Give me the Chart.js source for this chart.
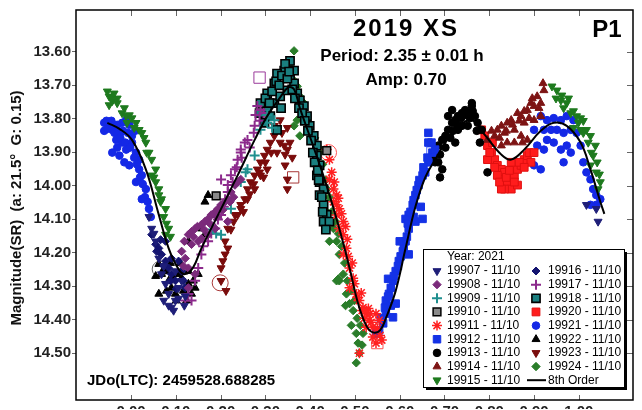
<!DOCTYPE html>
<html>
<head>
<meta charset="utf-8">
<script src="https://cdn.jsdelivr.net/npm/chart.js@4.4.0/dist/chart.umd.min.js"></script>
<style>
  html, body { margin: 0; padding: 0; background: #fff; overflow: hidden; }
  #wrap { width: 642px; height: 410px; position: relative; }
</style>
</head>
<body>
<div id="wrap"><canvas id="lc"></canvas></div>
<script>
// Axis setup
const xMin = -0.123, xMax = 1.121;
const yMin = 13.475, yMax = 14.640;
const xTicks = [0, 0.1, 0.2, 0.3, 0.4, 0.5, 0.6, 0.7, 0.8, 0.9, 1.0];
const yTicks = [13.6, 13.7, 13.8, 13.9, 14.0, 14.1, 14.2, 14.3, 14.4, 14.5];

// Sessions (all 11/10, year 2021)
const sessions = ['19907', '19908', '19909', '19910', '19911', '19912', '19913', '19914', '19915',
  '19916', '19917', '19918', '19920', '19921', '19922', '19923', '19924'];
const sessionDate = '11/10';

// [phase, magnitude]
const s19907 = [[0.046,14.128],[0.055,14.166],[0.062,14.217],[0.068,14.264],[0.073,14.240],[0.077,14.293],
  [0.084,14.323],[0.090,14.364],[0.099,14.343],[0.099,14.255],[0.106,14.305],[0.113,14.284],[0.121,14.330],
  [0.073,14.343],[0.084,14.358],[0.095,14.373],[0.106,14.337],[0.119,14.358],[0.040,14.093],[0.051,14.143],
  [1.017,14.057],[1.039,14.069],[1.043,14.107]];
const s19908 = [[0.128,14.146],[0.135,14.137],[0.143,14.128],[0.150,14.166],[0.157,14.116],[0.165,14.107],
  [0.172,14.099],[0.157,14.158],[0.179,14.087],[0.188,14.078],[0.194,14.069],[0.201,14.057],[0.210,14.048],
  [0.216,14.040],[0.223,14.019],[0.232,13.998],[0.238,13.989],[0.245,13.981],[0.135,14.175],[0.121,14.217],
  [0.128,14.246],[0.143,14.264],[0.128,14.305],[0.188,14.128],[0.172,14.146],[0.216,14.107],
  [0.113,14.196],[0.119,14.166],[0.139,14.152],[0.148,14.122],[0.163,14.131],[0.176,14.113],[0.192,14.093],
  [0.205,14.072],[0.221,14.048],[0.229,14.034],[0.117,14.240]];
const s19909 = [[0.201,14.146],[0.223,14.069],[0.245,13.989],[0.260,13.951],[0.276,13.910],[0.289,13.833],
  [0.304,13.812],[0.320,13.804],[0.183,14.131],[0.190,14.143],[0.304,13.789],[0.315,13.827],[0.256,13.960]];
const s19910 = [[0.190,14.030],[0.437,13.895]];
const s19911 = [[0.443,13.981],[0.452,14.010],[0.459,14.028],[0.452,14.048],[0.465,14.069],[0.459,14.087],
  [0.474,14.107],[0.465,14.128],[0.474,14.146],[0.481,14.187],[0.474,14.205],[0.488,14.246],[0.496,14.276],
  [0.488,14.305],[0.503,14.323],[0.510,14.343],[0.518,14.364],[0.525,14.382],[0.532,14.402],[0.540,14.423],
  [0.525,14.423],[0.547,14.382],[0.554,14.402],[0.510,14.500],[0.547,14.470],[0.540,14.452],[0.443,13.922],
  [0.437,13.892],[0.459,14.057],
  [0.448,13.960],[0.454,13.989],[0.463,14.037],[0.470,14.084],[0.479,14.122],[0.483,14.160],[0.485,14.211],
  [0.494,14.231],[0.499,14.293],[0.505,14.334],[0.514,14.320],[0.521,14.396],[0.530,14.367],[0.536,14.408],
  [0.550,14.426],[0.556,14.447],[0.560,14.461],[0.534,14.382],[0.516,14.373]];
const s19912 = [[0.547,14.441],[0.563,14.411],[0.569,14.382],[0.569,14.343],[0.576,14.323],[0.585,14.284],
  [0.591,14.255],[0.598,14.225],[0.607,14.196],[0.613,14.166],[0.620,14.128],[0.620,14.087],[0.629,14.057],
  [0.635,14.028],[0.642,13.998],[0.651,13.969],[0.657,13.960],[0.664,13.930],[0.673,13.901],[0.664,13.871],
  [0.664,13.842],[0.679,13.892],[0.574,14.278],[0.585,14.393],[0.591,14.352],[0.620,14.205],[0.635,14.107],
  [0.651,14.099],[0.613,14.099],
  [0.554,14.432],[0.558,14.396],[0.567,14.364],[0.574,14.331],[0.580,14.305],[0.587,14.270],[0.596,14.240],
  [0.602,14.211],[0.609,14.181],[0.616,14.152],[0.618,14.113],[0.624,14.078],[0.631,14.043],[0.638,14.013],
  [0.644,13.983],[0.653,13.945],[0.662,13.916],[0.671,13.871],[0.580,14.358],[0.600,14.166],[0.631,14.093],
  [0.647,14.063]];
const s19913 = [[0.673,13.922],[0.679,13.901],[0.686,13.880],[0.695,13.863],[0.702,13.851],[0.708,13.833],
  [0.717,13.812],[0.724,13.804],[0.730,13.792],[0.739,13.783],[0.746,13.774],[0.752,13.783],[0.761,13.762],
  [0.768,13.792],[0.774,13.812],[0.752,13.821],[0.739,13.821],[0.730,13.833],[0.717,13.774],[0.708,13.792],
  [0.761,13.753],[0.695,13.951],[0.686,13.930],[0.796,13.960],[0.783,13.833],[0.724,13.871],
  [0.679,13.930],[0.690,13.907],[0.702,13.886],[0.713,13.857],[0.719,13.836],[0.728,13.818],[0.737,13.798],
  [0.746,13.789],[0.757,13.798],[0.763,13.777],[0.772,13.836],[0.779,13.871],[0.690,13.975]];
const s19914 = [[0.796,13.863],[0.812,13.851],[0.818,13.833],[0.827,13.821],[0.834,13.842],[0.840,13.812],
  [0.849,13.804],[0.856,13.833],[0.863,13.783],[0.871,13.792],[0.878,13.812],[0.885,13.774],[0.893,13.753],
  [0.900,13.762],[0.907,13.733],[0.915,13.753],[0.922,13.715],[0.856,13.871],[0.840,13.871],[0.871,13.851],
  [0.885,13.863],[0.827,13.880],[0.900,13.804],[0.915,13.792],
  [0.805,13.836],[0.823,13.857],[0.838,13.836],[0.852,13.818],[0.867,13.806],[0.878,13.777],[0.889,13.798],
  [0.896,13.739],[0.911,13.768],[0.920,13.694],[0.874,13.871]];
const s19915 = [[-0.049,13.733],[-0.042,13.747],[-0.038,13.724],[-0.031,13.739],[-0.049,13.759],[-0.020,13.783],
  [-0.011,13.792],[-0.004,13.789],[0.002,13.798],[0.011,13.812],[0.018,13.833],[0.024,13.842],[0.033,13.871],
  [0.040,13.901],[0.046,13.922],[0.055,13.951],[0.046,13.969],[0.055,13.989],[0.062,14.010],[0.068,14.040],
  [0.077,14.069],[0.062,14.028],[0.084,14.128],[0.077,14.146],
  [-0.053,13.718],[-0.044,13.739],[-0.031,13.753],[-0.015,13.768],[-0.009,13.812],[0.007,13.827],[0.029,13.857],
  [0.035,13.901],[0.051,13.975],[0.066,14.048],[0.073,14.093],[0.079,14.113],[0.088,14.152],
  [0.940,13.703],[0.951,13.715],[0.962,13.730],[0.960,13.745],[0.973,13.753],[0.982,13.783],[0.995,13.792],
  [1.004,13.798],[1.010,13.806],[1.017,13.833],[1.026,13.851],[1.037,13.880],[1.032,13.910],[1.039,13.960],
  [1.048,13.989],[1.043,14.010],[1.026,13.939],[1.004,13.833],
  [0.949,13.739],[0.966,13.768],[0.977,13.739],[0.988,13.777],[0.999,13.812],[1.010,13.842],[1.021,13.871],
  [1.028,13.901],[1.041,13.930],[1.046,13.966],[0.988,13.827]];
const s19916 = [[0.046,14.146],[0.055,14.175],[0.062,14.187],[0.068,14.205],[0.077,14.225],[0.084,14.246],
  [0.090,14.264],[0.099,14.284],[0.090,14.217],[0.106,14.225],[0.113,14.255],[0.077,14.166],[0.121,14.305],
  [0.057,14.196],[0.073,14.240],[0.088,14.284],[0.101,14.308],[0.117,14.284],[0.066,14.161]];
const s19917 = [[0.128,14.323],[0.135,14.343],[0.143,14.284],[0.150,14.246],[0.157,14.205],[0.172,14.166],
  [0.188,14.128],[0.201,14.087],[0.210,14.040],[0.216,13.998],[0.223,13.969],[0.201,13.981],[0.232,13.951],
  [0.238,13.922],[0.245,13.892],[0.254,13.871],[0.260,13.863],[0.276,13.821],[0.289,13.774],[0.282,13.762],
  [0.245,13.901],[0.216,14.019],
  [0.121,14.343],[0.161,14.181],[0.179,14.143],[0.194,14.101],[0.207,14.063],[0.227,13.989],[0.236,13.945],
  [0.247,13.916],[0.265,13.886],[0.274,13.842],[0.287,13.806],[0.296,13.783],[0.278,13.789]];
const s19918 = [[0.304,13.774],[0.320,13.753],[0.333,13.733],[0.349,13.715],[0.355,13.674],[0.364,13.656],
  [0.355,13.627],[0.342,13.656],[0.326,13.665],[0.320,13.694],[0.304,13.724],[0.289,13.753],[0.298,13.812],
  [0.311,13.792],[0.326,13.833],[0.364,13.694],[0.371,13.724],[0.377,13.745],[0.386,13.762],[0.393,13.792],
  [0.399,13.821],[0.408,13.851],[0.415,13.880],[0.415,13.910],[0.421,13.939],[0.415,13.969],[0.421,13.989],
  [0.430,14.010],[0.421,14.028],[0.430,14.057],[0.437,14.087],[0.430,14.107],[0.443,14.107],
  [0.300,13.739],[0.309,13.753],[0.315,13.718],[0.324,13.688],[0.331,13.700],[0.337,13.671],[0.344,13.636],
  [0.349,13.680],[0.353,13.659],[0.360,13.712],[0.366,13.739],[0.375,13.768],[0.382,13.783],[0.388,13.806],
  [0.395,13.836],[0.402,13.865],[0.406,13.901],[0.410,13.930],[0.417,13.954],[0.419,13.983],[0.426,14.034],
  [0.428,14.078],[0.435,14.131],[0.287,13.783],[0.335,13.768]];
const s19920 = [[0.783,13.833],[0.790,13.851],[0.796,13.880],[0.805,13.901],[0.812,13.922],[0.796,13.922],
  [0.818,13.939],[0.827,13.951],[0.834,13.960],[0.827,13.981],[0.840,13.989],[0.849,14.010],[0.834,14.010],
  [0.856,13.969],[0.863,13.951],[0.871,13.939],[0.878,13.922],[0.885,13.910],[0.893,13.930],[0.849,13.930],
  [0.863,13.998],[0.818,13.969],[0.827,14.010],
  [0.801,13.901],[0.812,13.945],[0.823,13.989],[0.838,13.975],[0.845,13.954],[0.856,13.989],[0.867,13.930],
  [0.878,13.945],[0.889,13.901],[0.900,13.901],[0.807,13.871]];
const s19921 = [[-0.060,13.836],[-0.055,13.806],[-0.049,13.812],[-0.042,13.833],[-0.033,13.821],[-0.026,13.842],
  [-0.020,13.812],[-0.011,13.804],[-0.004,13.818],[-0.033,13.863],[-0.020,13.871],[-0.042,13.901],[-0.026,13.910],
  [-0.011,13.892],[0.002,13.871],[0.011,13.901],[0.018,13.951],[0.024,13.969],[0.011,13.989],[0.033,14.010],
  [0.024,14.040],[0.040,14.069],[0.018,13.922],[-0.004,13.939],[0.002,13.851],
  [-0.060,13.812],[-0.053,13.830],[-0.044,13.806],[-0.037,13.842],[-0.031,13.818],[-0.024,13.857],[-0.018,13.836],
  [-0.013,13.871],[-0.007,13.842],[-0.002,13.886],[0.007,13.916],[0.013,13.936],[0.020,13.975],[0.026,13.995],
  [0.031,14.034],[0.037,14.048],[0.044,14.093],[0.009,13.836],[-0.015,13.930],[-0.031,13.886],
  [0.915,13.792],[0.929,13.804],[0.944,13.798],[0.960,13.804],[0.973,13.792],[0.988,13.804],[0.900,13.833],
  [0.922,13.833],[0.938,13.833],[0.951,13.833],[0.966,13.842],[0.982,13.833],[0.995,13.842],[0.907,13.880],
  [0.922,13.892],[0.944,13.871],[0.960,13.892],[0.973,13.880],[0.982,13.901],[0.966,13.930],[0.900,13.939],
  [0.915,13.951],[1.004,13.880],[1.010,13.930],[1.017,13.960],[1.026,13.981],[1.032,14.010],[1.039,14.028],
  [1.048,14.040],[1.039,14.057],[1.026,14.057],[0.885,13.910],[0.929,13.863]];
const s19922 = [[0.062,14.234],[0.068,14.264],[0.077,14.255],[0.084,14.284],[0.090,14.305],[0.099,14.323],
  [0.106,14.264],[0.113,14.276],[0.128,14.293],[0.135,14.323],[0.143,14.305],[0.062,14.323],[0.128,14.255],
  [0.150,14.264],[0.165,14.048],[0.172,14.028],[0.157,14.128],[0.165,14.146],[0.188,14.087],[0.128,14.166],
  [0.073,14.249],[0.079,14.314],[0.095,14.278],[0.101,14.343],[0.117,14.314],[0.124,14.343],[0.139,14.284],
  [0.055,14.270],[0.088,14.231],[0.110,14.231]];
const s19923 = [[0.238,14.087],[0.245,14.057],[0.254,14.040],[0.260,14.010],[0.267,13.989],[0.276,13.969],
  [0.282,13.951],[0.289,13.930],[0.298,13.910],[0.304,13.892],[0.311,13.871],[0.320,13.851],[0.326,13.833],
  [0.333,13.871],[0.342,13.880],[0.349,13.892],[0.326,13.901],[0.304,13.951],[0.289,13.969],[0.276,14.010],
  [0.260,14.040],[0.245,14.069],[0.232,14.087],[0.216,14.128],[0.210,14.166],[0.210,14.205],[0.201,14.246],
  [0.216,14.187],[0.201,14.284],[0.344,13.939],[0.349,13.981],[0.349,14.010],[0.320,13.821],[0.333,13.804],
  [0.223,14.131],[0.229,14.107],[0.251,14.078],[0.265,14.025],[0.274,13.995],[0.287,13.960],[0.300,13.930],
  [0.313,13.901],[0.337,13.842],[0.349,13.827],[0.355,13.871],[0.360,13.916],[0.344,13.907],[0.296,13.975],
  [0.205,14.225],[0.212,14.314]];
const s19924 = [[0.364,13.597],[0.355,13.644],[0.364,13.686],[0.371,13.703],[0.377,13.733],[0.386,13.753],
  [0.371,13.804],[0.364,13.821],[0.377,13.851],[0.393,13.812],[0.399,13.842],[0.408,13.871],[0.421,13.901],
  [0.415,13.930],[0.421,13.969],[0.437,14.010],[0.430,14.048],[0.437,14.078],[0.452,14.128],[0.459,14.166],
  [0.465,14.205],[0.474,14.264],[0.465,14.284],[0.481,14.323],[0.488,14.352],[0.496,14.373],[0.459,14.284],
  [0.443,14.166],[0.463,14.278],[0.503,14.441],[0.507,14.470],[0.510,14.500],[0.503,14.529],[0.518,14.441],
  [0.384,13.783],[0.397,13.827],[0.410,13.857],[0.419,13.886],[0.428,13.936],[0.435,13.983],[0.443,14.034],
  [0.448,14.078],[0.457,14.107],[0.463,14.143],[0.470,14.181],[0.477,14.231],[0.483,14.284],[0.492,14.314],
  [0.499,14.343],[0.505,14.396],[0.512,14.417],[0.516,14.476],[0.492,14.417],[0.479,14.358]];

// circled / boxed points in the plot (no legend entry)
const markedPts = [[0.065,14.249],[0.199,14.290],[0.287,13.677],[0.362,13.975],[0.550,14.470],[0.673,13.901],[0.441,13.901]];
const markedShape = ['circle', 'circle', 'rect', 'rect', 'rect', 'rect', 'circle'];
const markedColor = ['#666666', '#a83838', '#9a3a9a', '#a83838', '#ff5050', '#4a64ff', '#ff5050'];

// 8th order Fourier fit
const fitPhase = [-0.053,-0.026,0.002,0.033,0.062,0.084,0.106,0.121,0.139,0.157,0.201,0.238,0.276,0.304,
  0.333,0.351,0.364,0.377,0.408,0.437,0.465,0.488,0.507,0.525,0.540,0.556,0.569,0.591,0.613,0.635,0.657,
  0.679,0.702,0.730,0.761,0.790,0.827,0.849,0.878,0.915,0.944,0.973,1.004,1.026,1.048,1.057];
const fitMag = [13.812,13.830,13.863,13.951,14.087,14.187,14.249,14.264,14.243,14.187,14.069,13.969,13.863,
  13.792,13.736,13.706,13.712,13.768,13.886,14.001,14.128,14.246,14.352,14.417,14.438,14.432,14.396,14.314,
  14.187,14.063,13.975,13.922,13.871,13.824,13.804,13.848,13.907,13.922,13.892,13.836,13.812,13.821,13.871,
  13.951,14.048,14.084];

const sessionData = { '19907': s19907, '19908': s19908, '19909': s19909, '19910': s19910, '19911': s19911,
  '19912': s19912, '19913': s19913, '19914': s19914, '19915': s19915, '19916': s19916, '19917': s19917,
  '19918': s19918, '19920': s19920, '19921': s19921, '19922': s19922, '19923': s19923, '19924': s19924 };

// marker looks
const looks = {
  '19907': { shape: 'triangle', rot: 180, fill: '#1e1e78', edge: '#1e1e78', r: 4.6, bw: 1 },
  '19908': { shape: 'rectRot', rot: 0, fill: '#7b2a7b', edge: '#7b2a7b', r: 4.2, bw: 1 },
  '19909': { shape: 'cross', rot: 0, fill: '#1f8f8f', edge: '#1f8f8f', r: 5, bw: 2 },
  '19910': { shape: 'rect', rot: 0, fill: '#8a8a8a', edge: '#000', r: 5.5, bw: 1.5 },
  '19911': { shape: 'star', rot: 0, fill: '#ff2020', edge: '#ff2020', r: 5, bw: 1.5 },
  '19912': { shape: 'rect', rot: 0, fill: '#1432e6', edge: '#1432e6', r: 5.3, bw: 1 },
  '19913': { shape: 'circle', rot: 0, fill: '#000', edge: '#000', r: 3.8, bw: 1 },
  '19914': { shape: 'triangle', rot: 0, fill: '#7d1414', edge: '#7d1414', r: 4.6, bw: 1 },
  '19915': { shape: 'triangle', rot: 180, fill: '#1e7a1e', edge: '#1e7a1e', r: 4.6, bw: 1 },
  '19916': { shape: 'rectRot', rot: 0, fill: '#141470', edge: '#141470', r: 4, bw: 1 },
  '19917': { shape: 'cross', rot: 0, fill: '#8c2a8c', edge: '#8c2a8c', r: 5, bw: 2 },
  '19918': { shape: 'rect', rot: 0, fill: '#1a7f7f', edge: '#000', r: 5.8, bw: 1.6 },
  '19920': { shape: 'rect', rot: 0, fill: '#ff1c1c', edge: '#e01010', r: 5.5, bw: 1 },
  '19921': { shape: 'circle', rot: 0, fill: '#1428e6', edge: '#1428e6', r: 3.8, bw: 1 },
  '19922': { shape: 'triangle', rot: 0, fill: '#000', edge: '#000', r: 4.6, bw: 1 },
  '19923': { shape: 'triangle', rot: 180, fill: '#7a0c0c', edge: '#7a0c0c', r: 4.6, bw: 1 },
  '19924': { shape: 'rectRot', rot: 0, fill: '#2a7d2a', edge: '#2a7d2a', r: 4.2, bw: 1 },
};

const FONT = 'Arial, "Liberation Sans", Helvetica, sans-serif';

let datasets = [{
  label: '8th Order',
  data: fitPhase.map((p, i) => ({ x: p, y: fitMag[i] })),
  showLine: true,
  borderColor: '#000',
  borderWidth: 2,
  pointRadius: 0,
  tension: 0.4,
  fill: false,
}];
sessions.forEach(function (s) {
  const lk = looks[s];
  datasets.push({
    label: s + ' - ' + sessionDate,
    data: sessionData[s].map(p => ({ x: p[0], y: p[1] })),
    pointStyle: lk.shape,
    rotation: lk.rot,
    pointRadius: lk.r,
    pointBackgroundColor: lk.fill,
    pointBorderColor: lk.edge,
    pointBorderWidth: lk.bw,
    showLine: false,
  });
});
datasets.push({
  label: 'marked',
  data: markedPts.map(p => ({ x: p[0], y: p[1] })),
  pointStyle: markedShape,
  pointRadius: 8,
  pointBackgroundColor: 'rgba(0,0,0,0)',
  pointBorderColor: markedColor,
  pointBorderWidth: 1,
  showLine: false,
});

function line(ctx, x1, y1, x2, y2) {
  ctx.beginPath(); ctx.moveTo(x1, y1); ctx.lineTo(x2, y2); ctx.stroke();
}

const decor = {
  id: 'decor',
  afterDatasetsDraw(chart) {
    const ctx = chart.ctx;
    const a = chart.chartArea;
    const xs = chart.scales.x, ys = chart.scales.y;
    ctx.save();

    // inward ticks on bottom, top and right
    ctx.strokeStyle = '#666';
    ctx.lineWidth = 1;
    xs.ticks.forEach(t => {
      const px = Math.round(xs.getPixelForValue(t.value)) + 0.5;
      line(ctx, px, a.bottom, px, a.bottom - 5);
      line(ctx, px, a.top, px, a.top + 6);
    });
    ys.ticks.forEach(t => {
      const py = Math.round(ys.getPixelForValue(t.value)) + 0.5;
      line(ctx, a.right, py, a.right - 6, py);
    });

    // frame
    ctx.strokeStyle = '#000';
    ctx.lineWidth = 1.5;
    ctx.strokeRect(a.left, a.top, a.right - a.left, a.bottom - a.top);

    // titles
    ctx.fillStyle = '#000';
    ctx.textAlign = 'center';
    ctx.textBaseline = 'middle';
    ctx.font = 'bold 24px ' + FONT;
    ctx.letterSpacing = '2px';
    ctx.fillText('2019 XS', 406, 29);
    ctx.letterSpacing = '0px';
    ctx.fillText('P1', 607, 30);
    ctx.font = 'bold 17px ' + FONT;
    ctx.fillText('Period: 2.35 \u00b1 0.01 h', 402, 56);
    ctx.fillText('Amp: 0.70', 406, 80);
    ctx.textAlign = 'left';
    ctx.font = 'bold 15px ' + FONT;
    ctx.fillText('JDo(LTC): 2459528.688285', 87, 381);

    // y axis title
    ctx.save();
    ctx.translate(17, 208);
    ctx.rotate(-Math.PI / 2);
    ctx.textAlign = 'center';
    ctx.font = 'bold 15px ' + FONT;
    ctx.fillStyle = '#111';
    ctx.fillText('Magnitude(SR)  (a: 21.5\u00b0  G: 0.15)', 0, 0);
    ctx.restore();

    // legend box
    const lx = 423, ly = 249, lw = 201, lh = 138;
    ctx.fillStyle = '#000';
    ctx.fillRect(lx + 3, ly + 3, lw, lh);
    ctx.fillStyle = '#fff';
    ctx.fillRect(lx, ly, lw, lh);
    ctx.strokeStyle = '#000';
    ctx.lineWidth = 1;
    ctx.strokeRect(lx + 0.5, ly + 0.5, lw, lh);

    ctx.font = '12px ' + FONT;
    ctx.textAlign = 'left';
    ctx.textBaseline = 'middle';
    ctx.fillStyle = '#000';
    ctx.fillText('Year: 2021', 447, 257);

    const rowY0 = 271, rowH = 13.65;
    const cols = [{ mx: 437, tx: 447 }, { mx: 536, tx: 548 }];
    const entries = datasets.slice(1, 1 + sessions.length).concat([datasets[0]]);
    entries.forEach((ds, i) => {
      const c = cols[i < 9 ? 0 : 1];
      const yy = rowY0 + (i % 9) * rowH;
      if (ds.label === '8th Order') {
        ctx.strokeStyle = '#000';
        ctx.lineWidth = 2;
        line(ctx, 527, yy, 546, yy);
        ctx.fillStyle = '#000';
        ctx.fillText(ds.label, c.tx, yy);
        return;
      }
      ctx.fillStyle = ds.pointBackgroundColor;
      ctx.strokeStyle = ds.pointBorderColor;
      ctx.lineWidth = ds.pointBorderWidth;
      Chart.helpers.drawPoint(ctx, {
        pointStyle: ds.pointStyle,
        rotation: ds.rotation,
        radius: ds.pointRadius,
        borderWidth: ds.pointBorderWidth,
      }, c.mx, yy);
      ctx.fillStyle = '#000';
      ctx.fillText(ds.label, c.tx, yy);
    });

    ctx.restore();
  }
};

const tickFont = { family: FONT, size: 15, weight: 'bold' };

new Chart(document.getElementById('lc'), {
  type: 'scatter',
  data: { datasets: datasets },
  options: {
    responsive: true,
    maintainAspectRatio: false,
    animation: false,
    layout: { padding: { top: 6, right: 2, left: 0, bottom: 0 } },
    plugins: { legend: { display: false }, tooltip: { enabled: false } },
    scales: {
      x: {
        type: 'linear',
        min: xMin,
        max: xMax,
        afterBuildTicks: axis => { axis.ticks = xTicks.map(v => ({ value: v })); },
        afterFit: axis => { axis.height = 9; },
        grid: { display: false, drawTicks: false },
        border: { display: false },
        ticks: {
          padding: 3,
          autoSkip: false,
          maxRotation: 0,
          font: tickFont,
          color: '#222',
          callback: v => Number(v).toFixed(2),
        },
      },
      y: {
        type: 'linear',
        reverse: true,
        min: yMin,
        max: yMax,
        afterBuildTicks: axis => { axis.ticks = yTicks.map(v => ({ value: v })); },
        afterFit: axis => { axis.width = 76; },
        grid: { drawOnChartArea: false, drawTicks: true, tickLength: 4, tickColor: '#666' },
        border: { display: false },
        ticks: {
          padding: 1,
          autoSkip: false,
          font: tickFont,
          color: '#222',
          callback: v => Number(v).toFixed(2),
        },
      },
    },
  },
  plugins: [decor],
});
</script>
</body>
</html>
